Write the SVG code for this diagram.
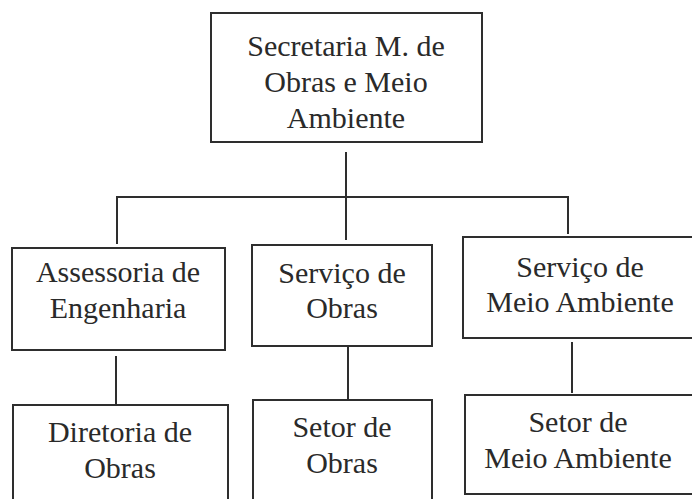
<svg xmlns="http://www.w3.org/2000/svg" width="692" height="499" viewBox="0 0 692 499">
<style>
.box{fill:#fff;stroke:#2e2e2e;stroke-width:2}
.ln{fill:none;stroke:#2e2e2e;stroke-width:2}
text{font-family:"Liberation Serif","Times New Roman",serif;font-size:30px;fill:#2a2a2a;text-anchor:middle}
</style>
<rect width="692" height="499" fill="#fff"/>
<g id="connectors">
<path class="ln" d="M346 152V240"/>
<path class="ln" d="M117 244V197H568V234"/>
<path class="ln" d="M116 356V404"/>
<path class="ln" d="M348 346V399"/>
<path class="ln" d="M572 342V393"/>
</g>
<g id="secretaria">
<rect class="box" x="211" y="13" width="271" height="129"/>
<text x="346" y="56">Secretaria M. de</text>
<text x="346" y="92">Obras e Meio</text>
<text x="346" y="128">Ambiente</text>
</g>
<g id="assessoria">
<rect class="box" x="12" y="248" width="213" height="102"/>
<text x="118" y="282">Assessoria de</text>
<text x="118" y="318">Engenharia</text>
</g>
<g id="servico-obras">
<rect class="box" x="252" y="245" width="180" height="101"/>
<text x="342" y="283">Serviço de</text>
<text x="342" y="318">Obras</text>
</g>
<g id="servico-meio">
<rect class="box" x="463" y="237" width="240" height="101"/>
<text x="580" y="277">Serviço de</text>
<text x="580" y="312">Meio Ambiente</text>
</g>
<g id="diretoria">
<rect class="box" x="13" y="405" width="215" height="110"/>
<text x="120" y="442">Diretoria de</text>
<text x="120" y="478">Obras</text>
</g>
<g id="setor-obras">
<rect class="box" x="253" y="400" width="179" height="115"/>
<text x="342" y="437">Setor de</text>
<text x="342" y="473">Obras</text>
</g>
<g id="setor-meio">
<rect class="box" x="465" y="395" width="240" height="99"/>
<text x="578" y="432">Setor de</text>
<text x="578" y="468">Meio Ambiente</text>
</g>
</svg>
